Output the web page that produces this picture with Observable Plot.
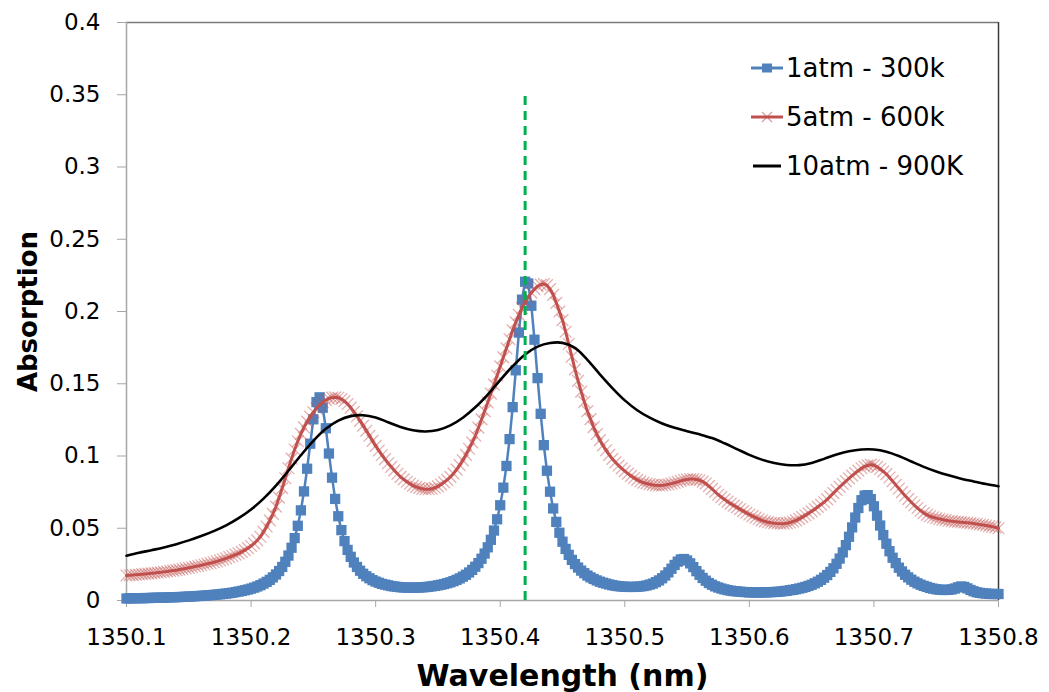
<!DOCTYPE html>
<html><head><meta charset="utf-8">
<script src="https://cdn.jsdelivr.net/npm/d3@7"></script>
<script src="https://cdn.jsdelivr.net/npm/@observablehq/plot@0.6"></script>
<style>
body{margin:0;background:#fff;}
#wrap{position:relative;width:1049px;height:692px;font-family:"DejaVu Sans",sans-serif;}
#legend{position:absolute;left:750px;top:43px;}
.row{display:flex;align-items:center;height:49px;font-size:26px;color:#000;white-space:nowrap;}
.row svg{margin-right:2px;}
</style></head><body><div id="wrap"></div>
<script>
// ---- data ----
const xStart = 1350.1;
const fineStep = 0.0025;   // spacing of the 1atm / 5atm samples (nm)
const coarseStep = 0.01;   // spacing of the 10atm samples (nm)
const seriesNames = ["1atm - 300k", "5atm - 600k", "10atm - 900K"];
const xTicks = [1350.1, 1350.2, 1350.3, 1350.4, 1350.5, 1350.6, 1350.7, 1350.8];
const yTicks = [0, 0.05, 0.1, 0.15, 0.2, 0.25, 0.3, 0.35, 0.4];
const markerWavelength = 1350.42;
const markerTop = 0.35;

const atm1 = [
 0.0014,0.0015,0.0015,0.0016,0.0016,0.0016,0.0017,0.0017,0.0018,0.0019,
 0.0019,0.0020,0.0020,0.0021,0.0022,0.0023,0.0023,0.0024,0.0025,0.0026,
 0.0027,0.0028,0.0030,0.0031,0.0032,0.0034,0.0035,0.0037,0.0039,0.0041,
 0.0043,0.0046,0.0048,0.0051,0.0054,0.0058,0.0062,0.0066,0.0071,0.0076,
 0.0082,0.0089,0.0097,0.0106,0.0117,0.0129,0.0143,0.0160,0.0180,0.0204,
 0.0232,0.0268,0.0311,0.0365,0.0432,0.0517,0.0624,0.0755,0.0912,0.1085,
 0.1254,0.1373,0.1406,0.1334,0.1192,0.1017,0.0850,0.0703,0.0583,0.0487,
 0.0411,0.0350,0.0302,0.0263,0.0232,0.0206,0.0185,0.0168,0.0154,0.0141,
 0.0131,0.0123,0.0115,0.0110,0.0105,0.0100,0.0097,0.0094,0.0092,0.0090,
 0.0089,0.0089,0.0089,0.0089,0.0090,0.0091,0.0093,0.0095,0.0098,0.0101,
 0.0105,0.0109,0.0114,0.0120,0.0126,0.0134,0.0143,0.0153,0.0165,0.0178,
 0.0194,0.0212,0.0234,0.0259,0.0289,0.0325,0.0368,0.0420,0.0484,0.0562,
 0.0659,0.0781,0.0931,0.1117,0.1338,0.1593,0.1854,0.2082,0.2206,0.2194,
 0.2040,0.1805,0.1539,0.1292,0.1075,0.0898,0.0753,0.0637,0.0544,0.0469,
 0.0407,0.0357,0.0316,0.0281,0.0252,0.0228,0.0207,0.0189,0.0173,0.0160,
 0.0149,0.0139,0.0130,0.0123,0.0117,0.0111,0.0106,0.0102,0.0099,0.0097,
 0.0095,0.0094,0.0094,0.0094,0.0095,0.0097,0.0100,0.0104,0.0110,0.0117,
 0.0127,0.0139,0.0154,0.0173,0.0195,0.0220,0.0246,0.0269,0.0284,0.0287,
 0.0277,0.0257,0.0231,0.0203,0.0178,0.0156,0.0137,0.0121,0.0109,0.0098,
 0.0090,0.0083,0.0077,0.0072,0.0068,0.0065,0.0063,0.0061,0.0059,0.0058,
 0.0056,0.0056,0.0056,0.0055,0.0056,0.0056,0.0057,0.0058,0.0059,0.0060,
 0.0062,0.0065,0.0067,0.0071,0.0074,0.0078,0.0083,0.0088,0.0094,0.0101,
 0.0109,0.0119,0.0130,0.0143,0.0158,0.0176,0.0198,0.0223,0.0254,0.0290,
 0.0333,0.0383,0.0441,0.0506,0.0574,0.0640,0.0694,0.0726,0.0729,0.0702,
 0.0652,0.0587,0.0519,0.0453,0.0393,0.0341,0.0296,0.0259,0.0227,0.0201,
 0.0178,0.0160,0.0144,0.0130,0.0119,0.0109,0.0101,0.0094,0.0087,0.0082,
 0.0078,0.0075,0.0073,0.0073,0.0074,0.0077,0.0083,0.0091,0.0097,0.0094,
 0.0084,0.0073,0.0064,0.0057,0.0053,0.0050,0.0048,0.0046,0.0045,0.0045,
 0.0045];

const atm5 = [
 0.0173,0.0175,0.0176,0.0178, 0.0180,0.0182,0.0184,0.0186,
 0.0188,0.0190,0.0193,0.0195, 0.0198,0.0201,0.0204,0.0207,
 0.0210,0.0214,0.0218,0.0222, 0.0226,0.0230,0.0235,0.0239,
 0.0244,0.0249,0.0254,0.0259, 0.0265,0.0271,0.0278,0.0285,
 0.0292,0.0300,0.0308,0.0317, 0.0326,0.0337,0.0349,0.0362,
 0.0377,0.0395,0.0416,0.0441, 0.0475,0.0512,0.0554,0.0600,
 0.0650,0.0712,0.0778,0.0846, 0.0915,0.0982,0.1045,0.1102,
 0.1153,0.1198,0.1238,0.1273, 0.1303,0.1330,0.1353,0.1372,
 0.1387,0.1398,0.1404,0.1406, 0.1403,0.1394,0.1380,0.1360,
 0.1335,0.1305,0.1275,0.1243, 0.1210,0.1175,0.1140,0.1105,
 0.1070,0.1038,0.1007,0.0978, 0.0950,0.0925,0.0900,0.0877,
 0.0855,0.0838,0.0822,0.0808, 0.0795,0.0786,0.0779,0.0773,
 0.0770,0.0770,0.0773,0.0780, 0.0790,0.0803,0.0818,0.0835,
 0.0855,0.0878,0.0906,0.0937, 0.0970,0.1008,0.1050,0.1094,
 0.1140,0.1196,0.1253,0.1311, 0.1370,0.1432,0.1494,0.1557,
 0.1620,0.1683,0.1745,0.1808, 0.1870,0.1925,0.1977,0.2023,
 0.2065,0.2100,0.2130,0.2155, 0.2175,0.2186,0.2190,0.2183,
 0.2155,0.2115,0.2060,0.2000, 0.1940,0.1860,0.1775,0.1688,
 0.1600,0.1520,0.1445,0.1375, 0.1310,0.1255,0.1200,0.1152,
 0.1110,0.1073,0.1040,0.1008, 0.0980,0.0956,0.0934,0.0914,
 0.0895,0.0878,0.0862,0.0848, 0.0835,0.0825,0.0816,0.0810,
 0.0805,0.0800,0.0797,0.0796, 0.0797,0.0800,0.0804,0.0809,
 0.0815,0.0821,0.0828,0.0834, 0.0838,0.0840,0.0840,0.0837,
 0.0832,0.0823,0.0810,0.0792, 0.0772,0.0752,0.0732,0.0715,
 0.0700,0.0684,0.0670,0.0657, 0.0645,0.0632,0.0619,0.0607,
 0.0595,0.0584,0.0574,0.0564, 0.0555,0.0548,0.0542,0.0538,
 0.0535,0.0533,0.0532,0.0532, 0.0535,0.0540,0.0547,0.0555,
 0.0565,0.0577,0.0590,0.0603, 0.0617,0.0632,0.0648,0.0664,
 0.0680,0.0700,0.0721,0.0743, 0.0765,0.0786,0.0806,0.0826,
 0.0845,0.0864,0.0882,0.0899, 0.0915,0.0927,0.0935,0.0940,
 0.0936,0.0925,0.0910,0.0893, 0.0875,0.0851,0.0826,0.0800,
 0.0775,0.0750,0.0725,0.0702, 0.0680,0.0659,0.0640,0.0621,
 0.0605,0.0593,0.0583,0.0576, 0.0570,0.0565,0.0560,0.0556,
 0.0552,0.0549,0.0546,0.0544, 0.0542,0.0540,0.0538,0.0536,
 0.0533,0.0530,0.0526,0.0523, 0.0519,0.0515,0.0511,0.0506,
 0.0500];

const atm10 = [
 0.031,0.033,0.0348,0.0367,0.039,0.0416,0.0446,0.048,0.052,0.057,
 0.063,0.0705,0.0795,0.0898,0.1005,0.1105,0.1188,0.1245,0.1276,0.1282,
 0.1266,0.1234,0.1201,0.1178,0.1170,0.1180,0.1212,0.1265,0.1337,0.1425,
 0.1525,0.1622,0.1703,0.1757,0.1782,0.1783,0.1748,0.1665,0.1565,0.1470,
 0.1385,0.1317,0.1265,0.1225,0.1195,0.1172,0.1150,0.1124,0.1088,0.1048,
 0.1008,0.0975,0.0952,0.0938,0.0937,0.0952,0.0980,0.1010,0.1033,0.1045,
 0.1045,0.1030,0.1000,0.0962,0.0925,0.0893,0.0866,0.0843,0.0824,0.0806,
 0.0790];

// ---- tables ----
const fine = atm1.map((v, i) => ({x: xStart + i * fineStep, a1: v, a5: atm5[i]}));
const coarse = atm10.map((v, i) => ({x: xStart + i * coarseStep, a10: v}));

const BLUE = "#4F81BD", RED = "#C0504D", GREEN = "#00B050";

const chart = Plot.plot({
  width: 1049, height: 692,
  marginLeft: 126, marginRight: 51, marginTop: 22, marginBottom: 92,
  style: {fontFamily: "DejaVu Sans, sans-serif", fontSize: "23px", color: "#000", background: "#fff", overflow: "visible"},
  x: {domain: [1350.1, 1350.8]},
  y: {domain: [0, 0.4]},
  marks: [
    Plot.axisX({ticks: xTicks, tickFormat: d => d.toFixed(1), tickSize: 7, tickPadding: 21, stroke: "#a6a6a6", fill: "#000", label: null}),
    Plot.axisY({ticks: yTicks, tickFormat: d => String(+d.toFixed(2)), tickSize: 9, tickPadding: 17, stroke: "#a6a6a6", fill: "#000", label: null}),
    Plot.ruleY([0.4], {stroke: "#7a7a7a", strokeWidth: 1.5}),
    Plot.ruleX([1350.8], {stroke: "#3c3c3c", strokeWidth: 1.5}),
    Plot.ruleX([1350.1], {stroke: "#a6a6a6", strokeWidth: 1.5}),
    Plot.ruleY([0], {stroke: "#a6a6a6", strokeWidth: 1.5}),
    // 1atm - 300k
    Plot.line(fine, {x: "x", y: "a1", stroke: BLUE, strokeWidth: 2.5}),
    Plot.dot(fine, {x: "x", y: "a1", symbol: "square", r: 5.8, fill: BLUE, stroke: "none"}),
    // 5atm - 600k
    Plot.dot(fine, {x: "x", y: "a5", symbol: "times", r: 5.4, stroke: RED, strokeOpacity: 0.45, strokeWidth: 1.3}),
    Plot.line(fine, {x: "x", y: "a5", stroke: RED, strokeWidth: 3}),
    // 10atm - 900K
    Plot.line(coarse, {x: "x", y: "a10", stroke: "#000", strokeWidth: 2.6, curve: "catmull-rom"}),
    // marker line
    Plot.ruleX([markerWavelength], {y1: 0, y2: markerTop, stroke: GREEN, strokeWidth: 3, strokeDasharray: "9,6"}),
    // axis titles
    Plot.text(["Wavelength (nm)"], {frameAnchor: "bottom", lineAnchor: "middle", textAnchor: "middle", dy: 76, fontSize: 30, fontWeight: "bold", fill: "#000"}),
    Plot.text(["Absorption"], {frameAnchor: "left", textAnchor: "middle", lineAnchor: "middle", dx: -98, rotate: -90, fontSize: 26, fontWeight: "bold", fill: "#000"})
  ]
});

const wrap = document.getElementById("wrap");
wrap.appendChild(chart);

// legend
const swatches = [
  `<svg width="34" height="20"><line x1="1" y1="10" x2="33" y2="10" stroke="${BLUE}" stroke-width="3"/><rect x="12" y="5.5" width="10" height="9" fill="${BLUE}"/></svg>`,
  `<svg width="34" height="20"><line x1="1" y1="10" x2="33" y2="10" stroke="${RED}" stroke-width="3"/><path d="M12,5L22,15M22,5L12,15" stroke="${RED}" stroke-opacity="0.55" stroke-width="1.3"/></svg>`,
  `<svg width="34" height="20"><line x1="3" y1="10" x2="31" y2="10" stroke="#000" stroke-width="3"/></svg>`
];
const legend = document.createElement("div");
legend.id = "legend";
legend.innerHTML = seriesNames.map((n, i) => `<div class="row">${swatches[i]}<span>${n}</span></div>`).join("");
wrap.appendChild(legend);
</script>
</body></html>
